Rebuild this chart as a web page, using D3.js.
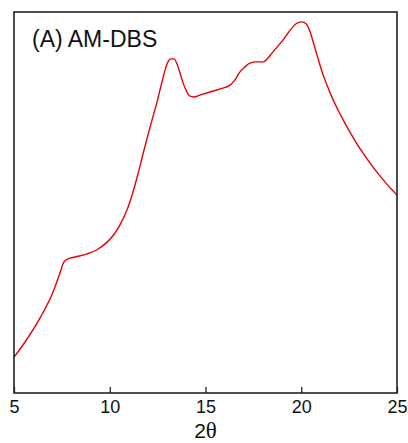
<!DOCTYPE html>
<html>
<head>
<meta charset="utf-8">
<script src="https://cdn.jsdelivr.net/npm/d3@7"></script>
<style>
html,body{margin:0;padding:0;background:#fff;}
svg{display:block;}
</style>
</head>
<body>
<svg id="chart" width="408" height="443"></svg>
<script>
// 2θ positions (degrees)
const twoTheta = [5.00,5.47,6.36,7.04,7.40,7.61,7.82,8.19,8.81,9.33,9.86,10.22,10.54,10.90,11.21,11.48,11.74,12.00,12.26,12.47,12.62,12.78,12.89,13.04,13.20,13.36,13.51,13.67,13.83,13.98,14.19,14.40,14.71,15.23,15.76,16.28,16.54,16.80,17.06,17.32,17.69,18.00,18.26,18.47,18.79,19.05,19.31,19.57,19.78,20.04,20.25,20.46,20.67,20.87,21.14,21.40,21.66,21.87,22.23,22.55,22.91,23.22,23.64,24.11,24.53,24.95,25.00];
// Intensity (arbitrary units)
const intensity = [9.4,12.6,19.7,26.5,31.5,34.4,35.2,35.7,36.5,37.6,39.6,41.6,44.2,48.0,52.7,57.6,62.8,67.8,72.6,76.4,79.5,82.7,84.8,86.9,87.7,87.7,86.4,84.0,81.4,79.5,77.9,77.7,78.2,79.0,79.8,80.8,82.2,84.3,85.6,86.6,86.9,86.9,87.9,89.2,91.1,92.7,94.5,96.1,97.1,97.4,96.9,94.8,91.3,87.9,83.5,80.1,77.0,74.8,71.3,68.4,65.4,63.0,60.0,57.0,54.5,52.2,51.9];
const xTicks = [5,10,15,20,25];
const title = "(A) AM-DBS";

(function(){
const svg = d3.select("#chart");
const mLeft = 14, mRight = 397, mTop = 12, mBottom = 393;

const x = d3.scaleLinear().domain([5,25]).range([mLeft,mRight]);
const y = d3.scaleLinear().domain([0,100]).range([mBottom,mTop]);

const data = twoTheta.map((t,i)=>({t, v:intensity[i]}));

// curve
svg.append("path")
  .datum(data)
  .attr("fill","none")
  .attr("stroke","#e8000b")
  .attr("stroke-width",1.4)
  .attr("stroke-linejoin","round")
  .attr("d", d3.line().x(d=>x(d.t)).y(d=>y(d.v)).curve(d3.curveMonotoneX));

// x axis with inward ticks
const ax = svg.append("g")
  .attr("transform",`translate(0,${mBottom})`)
  .call(d3.axisBottom(x).tickValues(xTicks).tickSizeInner(-6).tickSizeOuter(0).tickPadding(0).tickFormat(d3.format("d")));
ax.select(".domain").remove();
ax.selectAll(".tick line").attr("stroke","#222").attr("stroke-width",1.3);
ax.selectAll(".tick text")
  .attr("y",20).attr("dy",0)
  .attr("fill","#111")
  .style("font-family","Arial, 'Liberation Sans', sans-serif")
  .style("font-size","18px");

// frame
svg.append("rect")
  .attr("x",mLeft).attr("y",mTop)
  .attr("width",mRight-mLeft).attr("height",mBottom-mTop)
  .attr("fill","none").attr("stroke","#222").attr("stroke-width",1.6);

// x label
const xl = svg.append("text")
  .attr("x",(mLeft+mRight)/2).attr("y",438)
  .attr("text-anchor","middle")
  .attr("fill","#111")
  .style("font-size","21px");
xl.append("tspan").style("font-family","Arial, 'Liberation Sans', sans-serif").text("2");
xl.append("tspan").style("font-family","'Times New Roman','Liberation Serif',serif").style("font-size","23px").text("θ");

// title
svg.append("text")
  .attr("x",32).attr("y",47)
  .attr("fill","#111")
  .style("font-family","Arial, 'Liberation Sans', sans-serif")
  .style("font-size","23px")
  .text(title);
})();
</script>
</body>
</html>
